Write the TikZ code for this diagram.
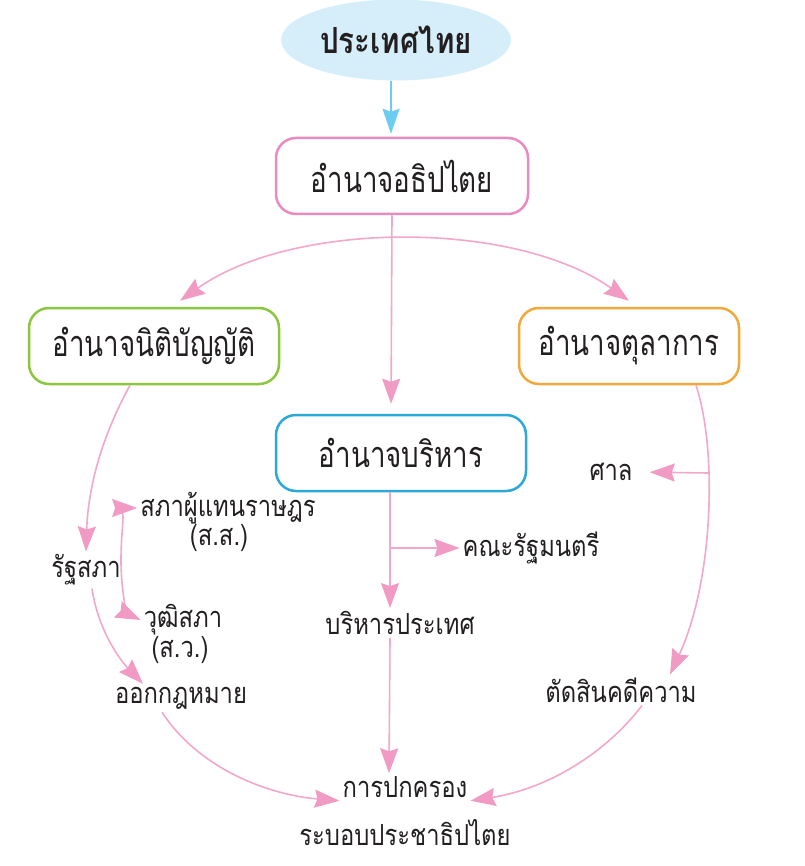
\documentclass[tikz,border=0pt]{standalone}
\usepackage{fontspec}
\newfontfamily\thaifont[Script=Thai,FakeStretch=0.82]{Loma}
\newfontfamily\thaibox[Script=Thai,FakeStretch=0.77]{Loma}
\usetikzlibrary{arrows.meta,shapes.geometric}

\definecolor{pinkline}{HTML}{F2A7CB}
\definecolor{pinkhead}{HTML}{F09AC4}
\definecolor{pinkbox}{HTML}{E98BBE}
\definecolor{greenbox}{HTML}{8CC63F}
\definecolor{bluebox}{HTML}{2BA8D8}
\definecolor{orangebox}{HTML}{F2A93B}
\definecolor{skyfill}{HTML}{D6EEFA}
\definecolor{skyarrow}{HTML}{6CCDF2}
\definecolor{inkgray}{HTML}{231F20}

\begin{document}
\begin{tikzpicture}[x=1pt,y=-1pt,
 box/.style={draw,line width=2.5pt,rounded corners=20pt,minimum height=76pt,fill=white,text=inkgray,font=\thaibox\fontsize{36}{42}\selectfont},
 lab/.style={text=inkgray,inner sep=3pt,font=\thaifont\fontsize{29}{34}\selectfont},
 arr/.style={pinkline,line width=1.6pt,-{Stealth[length=25pt,width=18pt,inset=3pt,color=pinkhead]}},
 arrs/.style={pinkline,line width=1.6pt,{Stealth[length=25pt,width=18pt,inset=3pt,color=pinkhead]}-{Stealth[length=25pt,width=18pt,inset=3pt,color=pinkhead]}}]

\useasboundingbox (0,0) rectangle (804,866);

% top
\node[ellipse,fill=skyfill,minimum width=230pt,minimum height=81pt,text=inkgray,font=\thaifont\bfseries\fontsize{36}{42}\selectfont] (thai) at (396,40) {ประเทศไทย};
\node[box,draw=pinkbox,minimum width=252pt] (sov) at (402,176) {อำนาจอธิปไตย};

% three powers
\node[box,draw=greenbox,minimum width=250pt] (leg) at (154,346) {อำนาจนิติบัญญัติ};
\node[box,draw=orangebox,minimum width=220pt] (jud) at (629,346) {อำนาจตุลาการ};
\node[box,draw=bluebox,minimum width=250pt] (exe) at (401,453) {อำนาจบริหาร};

% labels
\node[lab] (parl) at (86,570) {รัฐสภา};
\node[lab] (rep) at (228,508) {สภาผู้แทนราษฎร};
\node[lab] (repab) at (219,538) {(ส.ส.)};
\node[lab] (sen) at (183,620) {วุฒิสภา};
\node[lab] (senab) at (180,650) {(ส.ว.)};
\node[lab] (law) at (181,698) {ออกกฎหมาย};
\node[lab] (cab) at (531,548) {คณะรัฐมนตรี};
\node[lab] (admin) at (400,623) {บริหารประเทศ};
\node[lab] (court) at (611,472) {ศาล};
\node[lab] (judge) at (621,690) {ตัดสินคดีความ};
\node[lab] (gov) at (405,787) {การปกครอง};
\node[lab] (demo) at (405,833) {ระบอบประชาธิปไตย};

\coordinate (fork) at (121,560);
\coordinate (efork) at (390,548);
\coordinate (jfork) at (709,473);

% connectors
\draw[skyarrow,line width=1.6pt,shorten >=3pt,-{Stealth[length=25pt,width=17pt,inset=3pt]}] ([xshift=-5pt]thai.south) -- ([xshift=-5pt]thai.south |- sov.north);
\draw[arr,shorten >=10pt] ([xshift=-10pt]sov.south) -- ([xshift=-10pt]exe.north);
\draw[arrs] ([xshift=26pt,yshift=6pt]leg.north) .. controls (294,220) and (515,220) .. ([yshift=6pt]jud.north);

\draw[arr] ([xshift=-24pt]leg.south) .. controls (100,440) and (88,490) .. (parl.north);
\draw[arr] (fork) .. controls (121,520) and (128,508) .. (rep.west);
\draw[arr] (fork) .. controls (121,600) and (130,615) .. (sen.west);
\draw[arr] ([xshift=6pt]parl.south) .. controls (98,630) and (120,660) .. ([xshift=-38pt]law.north);
\draw[arr] ([xshift=-19pt]law.south) .. controls (200,770) and (270,795) .. (gov.south west);

\draw[arr] ([xshift=-11pt]exe.south) -- ([xshift=-10pt]admin.north);
\draw[arr] (efork) -- (cab.west);
\draw[arr] ([xshift=-10pt]admin.south) -- ([xshift=-16pt]gov.north);

\draw[pinkline,line width=1.6pt] ([xshift=67pt]jud.south) .. controls (704,410) and (708,440) .. (jfork);
\draw[arr] (jfork) .. controls (711,540) and (700,610) .. ([xshift=49pt]judge.north);
\draw[arr,shorten >=14pt] (jfork) -- (court.east);
\draw[arr] ([xshift=21pt]judge.south) .. controls (600,760) and (540,790) .. (gov.south east);
\end{tikzpicture}
\end{document}
